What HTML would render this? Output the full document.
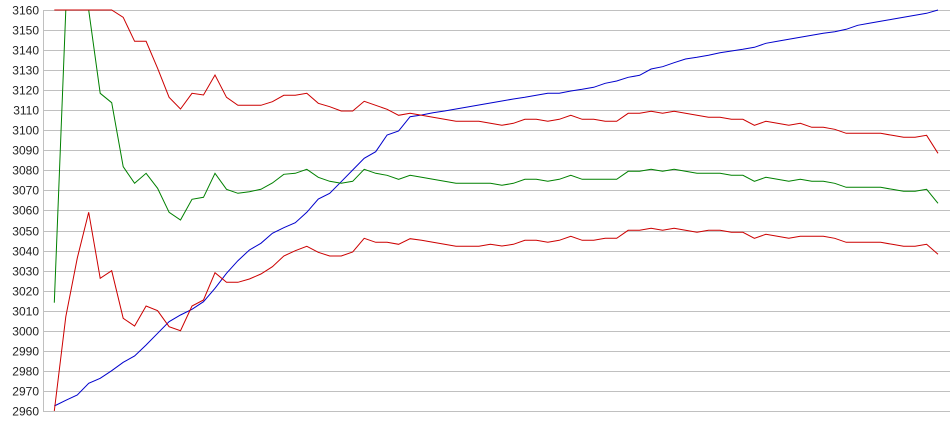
<!DOCTYPE html>
<html>
<head>
<meta charset="utf-8">
<style>
html,body{margin:0;padding:0;background:#fff;}
svg{display:block;}
text{font-family:"Liberation Sans",Arial,sans-serif;font-size:12px;fill:#222;}
</style>
</head>
<body>
<svg width="950" height="435" viewBox="0 0 950 435" xmlns="http://www.w3.org/2000/svg">
<rect x="0" y="0" width="950" height="435" fill="#fff"/>
<g fill="#c0c0c0">
<rect x="43" y="10" width="907" height="1"/>
<rect x="43" y="30" width="907" height="1"/>
<rect x="43" y="50" width="907" height="1"/>
<rect x="43" y="70" width="907" height="1"/>
<rect x="43" y="90" width="907" height="1"/>
<rect x="43" y="110" width="907" height="1"/>
<rect x="43" y="130" width="907" height="1"/>
<rect x="43" y="150" width="907" height="1"/>
<rect x="43" y="170" width="907" height="1"/>
<rect x="43" y="190" width="907" height="1"/>
<rect x="43" y="210" width="907" height="1"/>
<rect x="43" y="231" width="907" height="1"/>
<rect x="43" y="251" width="907" height="1"/>
<rect x="43" y="271" width="907" height="1"/>
<rect x="43" y="291" width="907" height="1"/>
<rect x="43" y="311" width="907" height="1"/>
<rect x="43" y="331" width="907" height="1"/>
<rect x="43" y="351" width="907" height="1"/>
<rect x="43" y="371" width="907" height="1"/>
<rect x="43" y="391" width="907" height="1"/>
<rect x="43" y="411" width="907" height="1"/>
<rect x="43" y="10" width="1" height="402"/>
</g>
<g text-anchor="end">
<text x="39" y="14.5">3160</text>
<text x="39" y="34.5">3150</text>
<text x="39" y="54.5">3140</text>
<text x="39" y="74.5">3130</text>
<text x="39" y="94.5">3120</text>
<text x="39" y="114.5">3110</text>
<text x="39" y="134.5">3100</text>
<text x="39" y="154.5">3090</text>
<text x="39" y="174.5">3080</text>
<text x="39" y="194.5">3070</text>
<text x="39" y="214.5">3060</text>
<text x="39" y="235.5">3050</text>
<text x="39" y="255.5">3040</text>
<text x="39" y="275.5">3030</text>
<text x="39" y="295.5">3020</text>
<text x="39" y="315.5">3010</text>
<text x="39" y="335.5">3000</text>
<text x="39" y="355.5">2990</text>
<text x="39" y="375.5">2980</text>
<text x="39" y="395.5">2970</text>
<text x="39" y="415.5">2960</text>
</g>
<g fill="none" stroke-width="1" stroke-linejoin="miter">
<!-- blue -->
<polyline stroke="#0000cc" points="54.3,406 65.8,400.3 77.3,395 88.7,383.3 100.2,378.3 111.7,370.7 123.2,362.3 134.6,356 146.1,345 157.6,333.3 169.1,321.7 180.5,315 192.0,309.3 203.5,301.7 215.0,288.3 226.5,273.3 237.9,260.7 249.4,250 260.9,243.3 272.4,233.3 283.8,227.7 295.3,222.7 306.8,212.3 318.3,199 329.7,193.3 341.2,181.7 352.7,170 364.2,158.3 375.7,151.7 387.1,135 398.6,131 410.1,116.7 421.6,115 433.0,112.7 444.5,111 456.0,109 467.5,107 478.9,105 490.4,103 501.9,101 513.4,99 524.9,97.3 536.3,95.3 547.8,93.3 559.3,93.3 570.8,91 582.2,89.3 593.7,87.3 605.2,83.3 616.7,81 628.2,77.3 639.6,75.3 651.1,69 662.6,66.7 674.1,62.7 685.5,59 697.0,57.3 708.5,55.3 720.0,52.7 731.4,51 742.9,49.3 754.4,47.3 765.9,43.3 777.4,41.3 788.8,39.3 800.3,37.3 811.8,35.3 823.3,33.3 834.7,31.7 846.2,29.3 857.7,25.3 869.2,23.3 880.6,21.3 892.1,19.3 903.6,17.3 915.1,15.3 926.6,13.3 938.0,10"/>
<!-- green -->
<polyline stroke="#008000" points="54.3,302.7 65.8,10 77.3,10 88.7,10 100.2,93.3 111.7,102.7 123.2,166.7 134.6,183.3 146.1,173.3 157.6,188.3 169.1,212.3 180.5,220 192.0,199.3 203.5,197.3 215.0,173.3 226.5,189.3 237.9,193.3 249.4,191.7 260.9,189.3 272.4,183 283.8,174.3 295.3,173.3 306.8,169.3 318.3,177.3 329.7,181.3 341.2,183.3 352.7,181.3 364.2,169.3 375.7,173.3 387.1,175.3 398.6,179.3 410.1,175.3 421.6,177.3 433.0,179.3 444.5,181.3 456.0,183.3 467.5,183.3 478.9,183.3 490.4,183.3 501.9,185.3 513.4,183.3 524.9,179.3 536.3,179.3 547.8,181.3 559.3,179.3 570.8,175.3 582.2,179.3 593.7,179.3 605.2,179.3 616.7,179.3 628.2,171.3 639.6,171.3 651.1,169.3 662.6,171.3 674.1,169.3 685.5,171.3 697.0,173.3 708.5,173.3 720.0,173.3 731.4,175.3 742.9,175.3 754.4,181.3 765.9,177.3 777.4,179.3 788.8,181.3 800.3,179.3 811.8,181.3 823.3,181.3 834.7,183.3 846.2,187.3 857.7,187.3 869.2,187.3 880.6,187.3 892.1,189.3 903.6,191.3 915.1,191.3 926.6,189.3 938.0,203.3"/>
<!-- red upper -->
<polyline stroke="#cc0000" points="54.3,10 65.8,10 77.3,10 88.7,10 100.2,10 111.7,10 123.2,17.3 134.6,41.3 146.1,41.3 157.6,68.3 169.1,97.3 180.5,109 192.0,93.3 203.5,95 215.0,75 226.5,97.3 237.9,105.3 249.4,105.3 260.9,105.3 272.4,101.7 283.8,95.3 295.3,95.3 306.8,93.3 318.3,103.3 329.7,106.7 341.2,111 352.7,111 364.2,101.3 375.7,105.3 387.1,109.3 398.6,115.3 410.1,113.3 421.6,115.3 433.0,117.3 444.5,119.3 456.0,121.3 467.5,121.3 478.9,121.3 490.4,123.3 501.9,125.3 513.4,123.3 524.9,119.3 536.3,119.3 547.8,121.3 559.3,119.3 570.8,115.3 582.2,119.3 593.7,119.3 605.2,121.3 616.7,121.3 628.2,113.3 639.6,113.3 651.1,111.3 662.6,113.3 674.1,111.3 685.5,113.3 697.0,115.3 708.5,117.3 720.0,117.3 731.4,119.3 742.9,119.3 754.4,125.3 765.9,121.3 777.4,123.3 788.8,125.3 800.3,123.3 811.8,127.3 823.3,127.3 834.7,129.3 846.2,133.3 857.7,133.3 869.2,133.3 880.6,133.3 892.1,135.3 903.6,137.3 915.1,137.3 926.6,135.3 938.0,153.3"/>
<!-- red lower -->
<polyline stroke="#cc0000" points="54.3,411 65.8,316.7 77.3,258 88.7,212.3 100.2,278.3 111.7,270.7 123.2,318.3 134.6,326 146.1,306 157.6,310.7 169.1,326.7 180.5,330.7 192.0,306 203.5,300 215.0,272.7 226.5,282.3 237.9,282.3 249.4,279 260.9,274 272.4,266.7 283.8,256 295.3,250.7 306.8,246.3 318.3,252.3 329.7,256 341.2,256 352.7,252 364.2,238.3 375.7,242.3 387.1,242.3 398.6,244.3 410.1,238.7 421.6,240.3 433.0,242.3 444.5,244.3 456.0,246.3 467.5,246.3 478.9,246.3 490.4,244.3 501.9,246 513.4,244.3 524.9,240.3 536.3,240.3 547.8,242.3 559.3,240.3 570.8,236.3 582.2,240.3 593.7,240.3 605.2,238.3 616.7,238.3 628.2,230.3 639.6,230.3 651.1,228.3 662.6,230.3 674.1,228.3 685.5,230.3 697.0,232.3 708.5,230.3 720.0,230.3 731.4,232.3 742.9,232.3 754.4,238.3 765.9,234.3 777.4,236.3 788.8,238.3 800.3,236.3 811.8,236.3 823.3,236.3 834.7,238.3 846.2,242.3 857.7,242.3 869.2,242.3 880.6,242.3 892.1,244.3 903.6,246.3 915.1,246.3 926.6,244.3 938.0,254.3"/>
</g>
</svg>
</body>
</html>
